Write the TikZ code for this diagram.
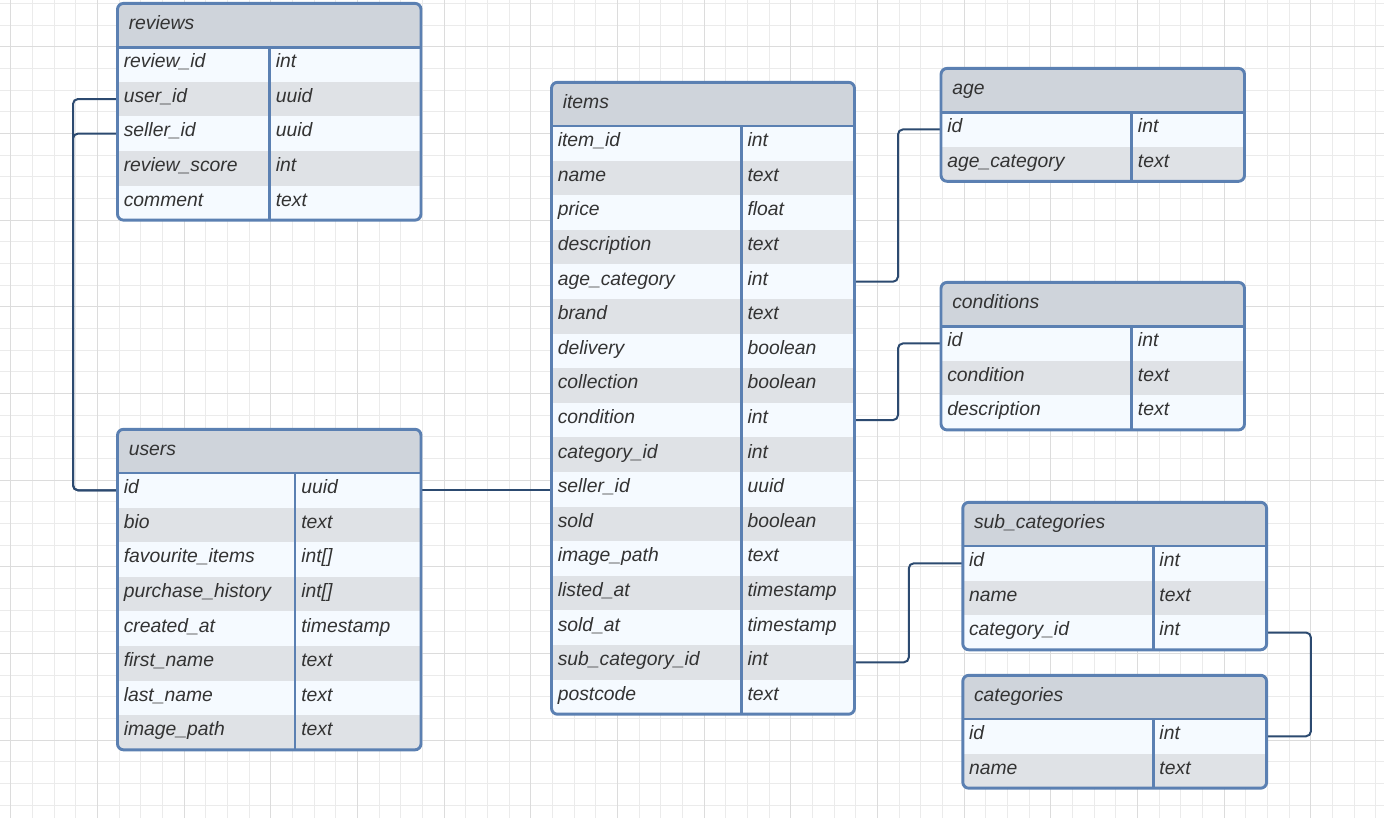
\documentclass[tikz,border=0pt]{standalone}
\usepackage{fontspec}
\setmainfont{Liberation Sans}
\usetikzlibrary{backgrounds}
\definecolor{hdrfill}{HTML}{CFD4DB}
\definecolor{rowlight}{HTML}{F5FAFF}
\definecolor{rowdark}{HTML}{DFE2E6}
\definecolor{bordercol}{HTML}{5B80B2}
\definecolor{conncol}{HTML}{2C4A70}
\definecolor{txtcol}{HTML}{333333}
\definecolor{gridminorcol}{HTML}{EBEBEB}
\definecolor{gridmajorcol}{HTML}{DCDCDC}
\tikzset{
 rowbox/.style={draw=none, inner sep=0pt, outer sep=0pt, anchor=north west, minimum height=25.95pt},
 celltext/.style={anchor=base west, inner sep=0pt, text=txtcol, font=\fontsize{14.5}{17}\selectfont\itshape},
 tblborder/.style={draw=bordercol, line width=2.2pt},
 conn/.style={draw=conncol, line width=1.5pt, rounded corners=3.75pt},
 gridminor/.style={draw=gridminorcol, line width=0.6pt},
 gridmajor/.style={draw=gridmajorcol, line width=0.6pt},
}
\newcommand{\erdtable}[8]{%
 \pgfmathsetmacro{\erdbot}{#3+43.7+#7*34.6}
 \begin{scope}
  \clip[rounded corners=4.5pt] (#2,#3) rectangle (#4,\erdbot);
  \fill[hdrfill] (#2,#3) rectangle (#4,#3+43.7);
  \foreach \fa/\fb [count=\ii] in {#8} {
   \pgfmathsetmacro{\erdry}{#3+43.7+(\ii-1)*34.6}
   \ifodd\ii \def\erdrc{rowlight}\else\def\erdrc{rowdark}\fi
   \node[rowbox, fill=\erdrc, minimum width={(#4-#2)*0.75pt}] (#1-\ii) at (#2,\erdry) {};
   \node[celltext] (#1-\ii-n) at (#2+6,\erdry+20.6) {\fa};
   \node[celltext] (#1-\ii-t) at (#5+6,\erdry+20.6) {\fb};
  }
 \end{scope}
 \node[celltext] (#1-title) at (#2+11,#3+26) {#6};
 \draw[tblborder] (#2,#3+43.7) -- (#4,#3+43.7);
 \draw[tblborder] (#5,#3+43.7) -- (#5,\erdbot);
 \draw[tblborder, rounded corners=4.5pt] (#2,#3) rectangle (#4,\erdbot);
}
\begin{document}
\begin{tikzpicture}[x=0.75pt,y=-0.75pt]
\useasboundingbox (0,0) rectangle (1384,818);
% tables
\erdtable{rv}{117.5}{3.4}{421}{269.5}{reviews}{5}{review\_id/int, user\_id/uuid, seller\_id/uuid, review\_score/int, comment/text}
\erdtable{us}{117.5}{429.3}{421}{295}{users}{8}{id/uuid, bio/text, favourite\_items/int[], purchase\_history/int[], created\_at/timestamp, first\_name/text, last\_name/text, image\_path/text}
\erdtable{it}{551.5}{82.3}{854.5}{741.3}{items}{17}{item\_id/int, name/text, price/float, description/text, age\_category/int, brand/text, delivery/boolean, collection/boolean, condition/int, category\_id/int, seller\_id/uuid, sold/boolean, image\_path/text, listed\_at/timestamp, sold\_at/timestamp, sub\_category\_id/int, postcode/text}
\erdtable{ag}{941}{68.4}{1244.5}{1131.7}{age}{2}{id/int, age\_category/text}
\erdtable{cd}{941}{282.4}{1244.5}{1131.7}{conditions}{3}{id/int, condition/text, description/text}
\erdtable{sc}{962.8}{502.3}{1266.6}{1153.2}{sub\_categories}{3}{id/int, name/text, category\_id/int}
\erdtable{ct}{962.8}{675.3}{1266.6}{1153.2}{categories}{2}{id/int, name/text}
\begin{pgfonlayer}{background}
\fill[white] (0,0) rectangle (1384,818);
\foreach \k in {0,...,63} \draw[gridminor] ({10.7+21.667*\k},0) -- ({10.7+21.667*\k},818);
\foreach \k in {0,...,37} \draw[gridminor] (0,{3.3+21.667*\k}) -- (1384,{3.3+21.667*\k});
\foreach \k in {0,...,15} \draw[gridmajor] ({10.7+86.667*\k},0) -- ({10.7+86.667*\k},818);
\foreach \k in {0,...,8} \draw[gridmajor] (0,{46.7+86.667*\k}) -- (1384,{46.7+86.667*\k});
% connectors
\draw[conn] (rv-2.west) -- ++(-44.5,0) |- (us-1.west);
\draw[conn] (rv-3.west) -- ++(-44.5,0) |- (us-1.west);
\draw[conn] (us-1.east) -- (us-1.east -| it-11.west);
\draw[conn] (it-5.east) -- ++(43.5,0) |- (ag-1.west);
\draw[conn] (it-9.east) -- ++(43.5,0) |- (cd-1.west);
\draw[conn] (it-16.east) -- ++(54.3,0) |- (sc-1.west);
\draw[conn] (sc-3.east) -- ++(44.3,0) |- (ct-1.east);
\end{pgfonlayer}
\end{tikzpicture}
\end{document}
